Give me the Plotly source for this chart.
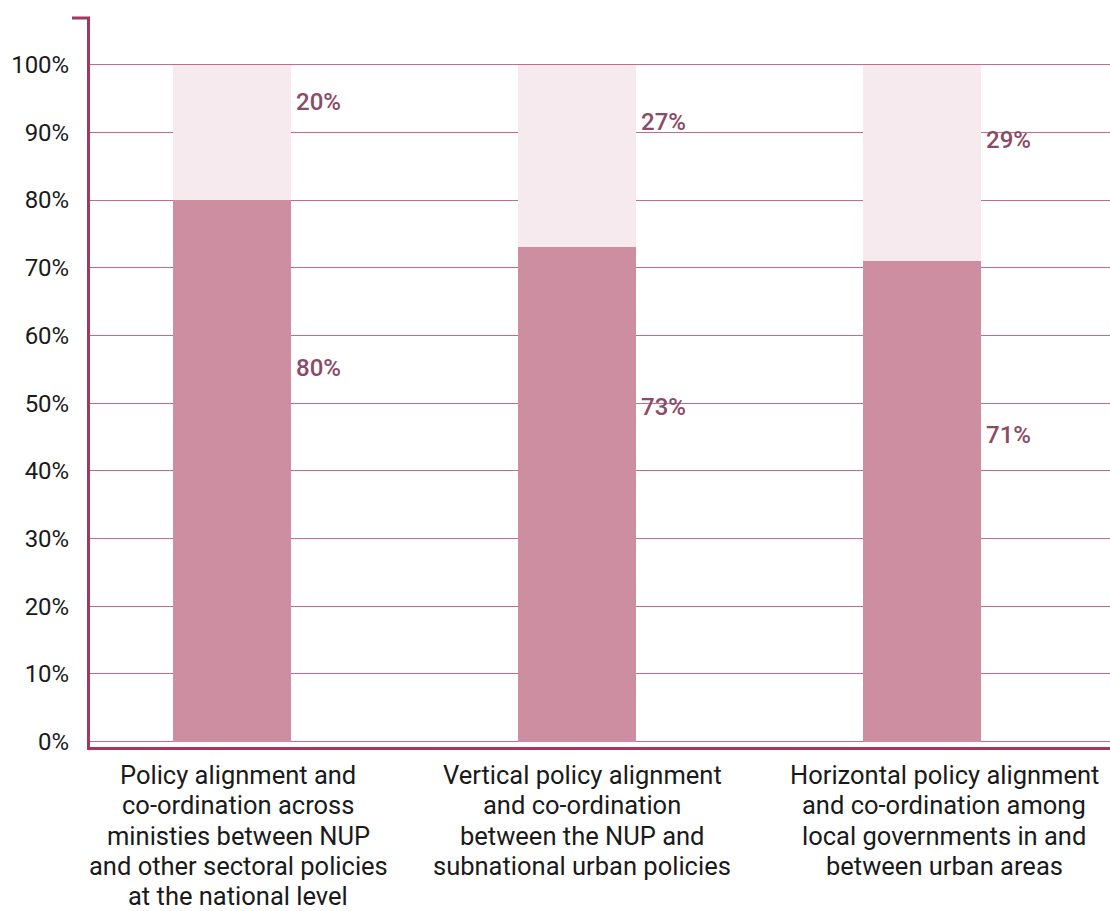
import plotly.graph_objects as go

# Share of respondents per policy-alignment dimension (percent)
categories = [
    "Policy alignment and<br>co-ordination across<br>ministies between NUP<br>and other sectoral policies<br>at the national level",
    "Vertical policy alignment<br>and co-ordination<br>between the NUP and<br>subnational urban policies",
    "Horizontal policy alignment<br>and co-ordination among<br>local governments in and<br>between urban areas",
]
yes_values = [80, 73, 71]
no_values = [20, 27, 29]
y_ticks = [0, 10, 20, 30, 40, 50, 60, 70, 80, 90, 100]

# Styling
DARK = "#CD8EA1"
LIGHT = "#F6EAEE"
AXIS = "#A3385C"
GRID = "#C96A88"
LABEL = "#8B4A67"
TEXT = "#1a1a1a"
FONT = "Roboto"
BAR_W = 0.342

# Vertical placement of the value labels (data units)
yes_label_pos = [55.2, 49.4, 45.3]
no_label_pos = [94.5, 91.5, 88.9]
# Horizontal nudge of the category captions (px)
caption_shift = [6, 5, 22]
CAPTION_SIZE = 25.5
CAPTION_LINE = 30.3

xs = list(range(len(categories)))

fig = go.Figure()
fig.add_trace(go.Bar(x=xs, y=yes_values, marker=dict(color=DARK, line=dict(width=0)),
                     width=BAR_W, hoverinfo="skip"))
fig.add_trace(go.Bar(x=xs, y=no_values, marker=dict(color=LIGHT, line=dict(width=0)),
                     width=BAR_W, hoverinfo="skip"))

annotations = []
for i in xs:
    for val, pos in ((yes_values[i], yes_label_pos[i]), (no_values[i], no_label_pos[i])):
        annotations.append(dict(
            x=i + BAR_W / 2, y=pos, xref="x", yref="y",
            text=f"{val}%", showarrow=False, xanchor="left", yanchor="middle",
            xshift=3, font=dict(family=FONT, size=24, color=LABEL, weight=500),
        ))
    # category caption, one annotation per line for tighter leading
    for k, line in enumerate(categories[i].split("<br>")):
        annotations.append(dict(
            x=i, y=0, xref="x", yref="paper", text=line, showarrow=False,
            xanchor="center", yanchor="middle",
            yshift=-28 - CAPTION_LINE * k, xshift=caption_shift[i],
            font=dict(family=FONT, size=CAPTION_SIZE, color=TEXT),
        ))

fig.update_layout(
    barmode="stack",
    width=1110, height=911,
    margin=dict(l=90, r=0, t=18, b=164),
    paper_bgcolor="white", plot_bgcolor="white",
    showlegend=False,
    annotations=annotations,
    font=dict(family=FONT),
    shapes=[dict(type="line", xref="paper", yref="paper",
                 x0=-18 / 1020, x1=0, y0=1, y1=1,
                 line=dict(color=AXIS, width=3))],
)
fig.update_xaxes(
    range=[-0.412, 2.545], showticklabels=False, showgrid=False, zeroline=False,
    showline=True, linecolor=AXIS, linewidth=3, fixedrange=True,
)
fig.update_yaxes(
    range=[-0.8, 106.9], tickvals=y_ticks, ticktext=[f"{v}%" for v in y_ticks],
    showgrid=True, gridcolor=GRID, gridwidth=1, zeroline=False,
    showline=True, linecolor=AXIS, linewidth=3,
    tickfont=dict(family=FONT, size=24, color=TEXT),
    ticklabelstandoff=13, fixedrange=True,
)

fig.write_html("out.html")
